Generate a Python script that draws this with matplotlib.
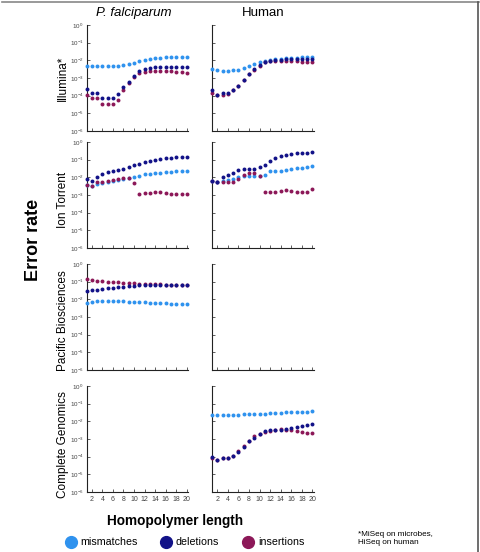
import numpy as np
import matplotlib
matplotlib.use("Agg")
import matplotlib.pyplot as plt
from matplotlib.lines import Line2D

plt.rcParams['font.family'] = ['Liberation Sans', 'DejaVu Sans']
plt.rcParams['mathtext.fontset'] = 'custom'
plt.rcParams['mathtext.rm'] = 'Liberation Sans'

# ---------------- data ----------------
lengths = list(range(1, 21))
x_ticks = [2, 4, 6, 8, 10, 12, 14, 16, 18, 20]
y_exponents = [0, -1, -2, -3, -4, -5, -6]

columns = ["P. falciparum", "Human"]
rows = ["Illumina*", "Ion Torrent", "Pacific Biosciences", "Complete Genomics"]
series_names = ["mismatches", "deletions", "insertions"]

# Illumina, P. falciparum
pf_ill_mis = [4.5e-3, 4.5e-3, 4.7e-3, 4.5e-3, 4.5e-3, 4.5e-3, 4.7e-3, 5.2e-3, 6.0e-3, 7.4e-3,
              9.1e-3, 1.05e-2, 1.2e-2, 1.32e-2, 1.41e-2, 1.48e-2, 1.51e-2, 1.51e-2, 1.55e-2, 1.58e-2]
pf_ill_del = [2.3e-4, 1.5e-4, 1.5e-4, 7.8e-5, 7.8e-5, 7.8e-5, 1.2e-4, 3.0e-4, 6.3e-4, 1.3e-3,
              2.6e-3, 3.2e-3, 3.7e-3, 4.0e-3, 4.0e-3, 4.2e-3, 4.2e-3, 4.4e-3, 4.4e-3, 4.0e-3]
pf_ill_ins = [1.1e-4, 7.1e-5, 7.1e-5, 3.4e-5, 3.4e-5, 3.4e-5, 5.6e-5, 2.0e-4, 5.0e-4, 1.1e-3,
              2.0e-3, 2.3e-3, 2.5e-3, 2.5e-3, 2.5e-3, 2.5e-3, 2.4e-3, 2.3e-3, 2.1e-3, 1.9e-3]
# Illumina, Human
hu_ill_mis = [3.1e-3, 2.8e-3, 2.6e-3, 2.6e-3, 2.8e-3, 2.8e-3, 3.5e-3, 4.8e-3, 6.3e-3, 7.9e-3,
              9.5e-3, 1.1e-2, 1.2e-2, 1.26e-2, 1.32e-2, 1.38e-2, 1.41e-2, 1.45e-2, 1.45e-2, 1.48e-2]
hu_ill_del = [2.1e-4, 1.1e-4, 1.5e-4, 1.5e-4, 2.1e-4, 3.7e-4, 7.8e-4, 1.7e-3, 3.2e-3, 5.5e-3,
              8.1e-3, 9.5e-3, 1.05e-2, 1.1e-2, 1.15e-2, 1.15e-2, 1.17e-2, 1.17e-2, 1.17e-2, 1.17e-2]
hu_ill_ins = [1.5e-4, 1.1e-4, 1.1e-4, 1.3e-4, 2.0e-4, 3.5e-4, 7.6e-4, 1.6e-3, 3.0e-3, 5.0e-3,
              7.6e-3, 8.9e-3, 9.3e-3, 9.3e-3, 9.1e-3, 8.9e-3, 8.7e-3, 8.3e-3, 7.9e-3, 7.6e-3]
# Ion Torrent, P. falciparum
pf_ion_mis = [3.8e-3, 3.1e-3, 4.2e-3, 5.0e-3, 5.6e-3, 6.3e-3, 7.1e-3, 7.9e-3, 8.9e-3, 1.05e-2,
              1.15e-2, 1.55e-2, 1.6e-2, 1.7e-2, 1.8e-2, 1.9e-2, 2.0e-2, 2.2e-2, 2.3e-2, 2.4e-2]
pf_ion_del = [8.1e-3, 6.5e-3, 1.05e-2, 1.6e-2, 1.9e-2, 2.2e-2, 2.5e-2, 3.0e-2, 3.8e-2, 4.8e-2,
              5.9e-2, 7.4e-2, 8.7e-2, 1.0e-1, 1.15e-1, 1.23e-1, 1.29e-1, 1.35e-1, 1.35e-1, 1.35e-1]
pf_ion_ins = [3.8e-3, 3.2e-3, 5.5e-3, 5.2e-3, 5.9e-3, 6.8e-3, 8.1e-3, 9.1e-3, 9.1e-3, 4.8e-3,
              1.2e-3, 1.26e-3, 1.3e-3, 1.4e-3, 1.5e-3, 1.3e-3, 1.2e-3, 1.2e-3, 1.15e-3, 1.15e-3]
# Ion Torrent, Human
hu_ion_mis = [5.9e-3, 5.5e-3, 6.2e-3, 6.8e-3, 8.3e-3, 1.0e-2, 1.15e-2, 1.2e-2, 1.2e-2, 1.2e-2,
              1.4e-2, 2.2e-2, 2.2e-2, 2.4e-2, 2.7e-2, 2.9e-2, 3.2e-2, 3.5e-2, 3.8e-2, 4.2e-2]
hu_ion_del = [5.9e-3, 5.5e-3, 1.05e-2, 1.35e-2, 1.8e-2, 2.7e-2, 3.1e-2, 3.1e-2, 3.1e-2, 3.8e-2,
              5.2e-2, 8.7e-2, 1.23e-1, 1.6e-1, 1.8e-1, 2.1e-1, 2.3e-1, 2.4e-1, 2.5e-1, 2.6e-1]
hu_ion_ins = [5.9e-3, 5.2e-3, 5.2e-3, 5.5e-3, 5.5e-3, 8.1e-3, 1.3e-2, 1.8e-2, 1.8e-2, 1.2e-2,
              1.5e-3, 1.5e-3, 1.55e-3, 1.6e-3, 1.8e-3, 1.6e-3, 1.5e-3, 1.4e-3, 1.55e-3, 2.2e-3]
# Pacific Biosciences, P. falciparum
pf_pac_mis = [6.5e-3, 7.1e-3, 7.8e-3, 8.1e-3, 8.1e-3, 8.1e-3, 8.1e-3, 7.8e-3, 7.4e-3, 7.4e-3,
              7.1e-3, 6.8e-3, 6.5e-3, 6.5e-3, 6.2e-3, 5.9e-3, 5.6e-3, 5.5e-3, 5.2e-3, 5.2e-3]
pf_pac_del = [3.0e-2, 3.2e-2, 3.5e-2, 3.8e-2, 4.2e-2, 4.6e-2, 5.0e-2, 5.2e-2, 5.5e-2, 5.9e-2,
              6.2e-2, 6.5e-2, 6.5e-2, 6.8e-2, 6.8e-2, 6.8e-2, 6.8e-2, 6.8e-2, 6.8e-2, 6.8e-2]
pf_pac_ins = [1.35e-1, 1.23e-1, 1.15e-1, 1.1e-1, 1.0e-1, 9.5e-2, 9.1e-2, 8.7e-2, 8.3e-2, 8.1e-2,
              7.8e-2, 7.4e-2, 7.2e-2, 7.1e-2, 7.1e-2, 6.9e-2, 6.9e-2, 6.8e-2, 6.8e-2, 6.8e-2]
# Complete Genomics, Human
hu_cg_mis = [2.4e-2, 2.4e-2, 2.4e-2, 2.3e-2, 2.4e-2, 2.4e-2, 2.5e-2, 2.6e-2, 2.6e-2, 2.75e-2,
             2.75e-2, 2.9e-2, 3.0e-2, 3.0e-2, 3.2e-2, 3.3e-2, 3.4e-2, 3.5e-2, 3.5e-2, 3.7e-2]
hu_cg_del = [9.1e-5, 6.8e-5, 7.9e-5, 8.1e-5, 1.1e-4, 1.95e-4, 3.7e-4, 7.6e-4, 1.2e-3, 1.8e-3,
             2.7e-3, 3.1e-3, 3.3e-3, 3.4e-3, 3.8e-3, 4.2e-3, 4.5e-3, 5.4e-3, 5.9e-3, 6.8e-3]
hu_cg_ins = [8.7e-5, 6.8e-5, 7.9e-5, 7.9e-5, 1.05e-4, 2.1e-4, 3.9e-4, 8.1e-4, 1.4e-3, 1.8e-3,
             2.5e-3, 3.0e-3, 3.2e-3, 3.5e-3, 3.4e-3, 3.1e-3, 2.8e-3, 2.5e-3, 2.2e-3, 2.2e-3]

panel_data = {
    (0, 0): (pf_ill_mis, pf_ill_del, pf_ill_ins),
    (0, 1): (hu_ill_mis, hu_ill_del, hu_ill_ins),
    (1, 0): (pf_ion_mis, pf_ion_del, pf_ion_ins),
    (1, 1): (hu_ion_mis, hu_ion_del, hu_ion_ins),
    (2, 0): (pf_pac_mis, pf_pac_del, pf_pac_ins),
    (3, 1): (hu_cg_mis, hu_cg_del, hu_cg_ins),
}

c_mis = '#2f92ee'
c_del = '#121288'
c_ins = '#8c1858'
colors = [c_mis, c_del, c_ins]

# ---------------- layout ----------------
W, H = 481, 552
fig = plt.figure(figsize=(W / 100, H / 100), dpi=100)

col_left = [86.5, 212.0]
ax_w = 102.0
row_top = [25.0, 142.0, 264.0, 386.0]
ax_h = 106.0

def fx(px):
    return px / W

def fy(py):
    return 1 - py / H

tick_col = '#444444'
for r in range(4):
    for c in range(2):
        ax = fig.add_axes([fx(col_left[c]), fy(row_top[r] + ax_h), ax_w / W, ax_h / H])
        ax.set_yscale('log')
        ax.set_xlim(1, 20.3)
        ax.set_ylim(1e-6, 1)
        for s in ['top', 'right']:
            ax.spines[s].set_visible(False)
        for s in ['left', 'bottom']:
            ax.spines[s].set_linewidth(0.8)
            ax.spines[s].set_color('#222222')
        ax.set_yticks([10.0 ** e for e in y_exponents])
        ax.minorticks_off()
        ax.set_xticks(x_ticks)
        ax.tick_params(direction='in', length=2, width=0.6, colors=tick_col,
                       labelsize=4.5, pad=2)
        if c == 0:
            ax.set_yticklabels([r'$10^{%d}$' % e for e in y_exponents])
        else:
            ax.set_yticklabels([])
        if r == 3:
            ax.set_xticklabels([str(t) for t in x_ticks])
            ax.tick_params(axis='x', labelsize=5, pad=3)
        else:
            ax.set_xticklabels([])
        if (r, c) in panel_data:
            mis, dele, ins = panel_data[(r, c)]
            ax.scatter(lengths, mis, s=8, color=c_mis, linewidths=0, zorder=3, clip_on=False)
            ax.scatter(lengths, ins, s=8, color=c_ins, linewidths=0, zorder=4, clip_on=False)
            ax.scatter(lengths, dele, s=8, color=c_del, linewidths=0, zorder=5, clip_on=False)

# column titles
fig.text(fx(134), fy(13), columns[0], ha='center', va='center', fontsize=9.5, style='italic')
fig.text(fx(263), fy(13), columns[1], ha='center', va='center', fontsize=9.5)

# row labels
row_label_y = [78, 200, 321, 445]
for lab, yy in zip(rows, row_label_y):
    fig.text(fx(63), fy(yy), lab, ha='center', va='center', rotation=90, fontsize=8.5)

fig.text(fx(33), fy(240), "Error rate", ha='center', va='center', rotation=90,
         fontsize=13, fontweight='bold')
fig.text(fx(175), fy(521), "Homopolymer length", ha='center', va='center',
         fontsize=9.8, fontweight='bold')

# legend
leg_x = [70.5, 166.5, 248.5]
for name, col, lx in zip(series_names, colors, leg_x):
    fig.add_artist(Line2D([fx(lx)], [fy(542)], marker='o', markersize=8.5, color=col,
                          linestyle='none', transform=fig.transFigure))
    fig.text(fx(lx + 9.5), fy(542), name, ha='left', va='center', fontsize=7.7)

fig.text(fx(358), fy(538.5), "*MiSeq on microbes,\nHiSeq on human", ha='left', va='center',
         fontsize=5.9, linespacing=1.2)

# frame lines (top and right)
fig.add_artist(Line2D([fx(2), fx(479)], [fy(1.5), fy(1.5)], color='#888888', lw=1.2,
                      transform=fig.transFigure))
fig.add_artist(Line2D([fx(478.5), fx(478.5)], [fy(1.5), fy(552)], color='#555555', lw=1.2,
                      transform=fig.transFigure))

fig.savefig('out.png', dpi=100)
